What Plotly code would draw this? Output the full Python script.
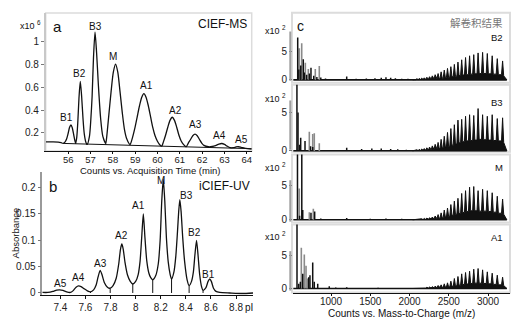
import plotly.graph_objects as go

W, H = 520, 330
FONT = "Liberation Sans, Arial, sans-serif"
CJK = "Noto Sans CJK SC"

# ---------------- (a) CIEF-MS: counts (x10^6) vs acquisition time (min)
ms_time = [55.0, 55.3, 55.55, 55.68, 55.77, 55.85, 55.93, 56.0, 56.06, 56.12, 56.18, 56.24, 56.29, 56.33,
           56.38, 56.43, 56.48, 56.54, 56.60, 56.66, 56.72, 56.79, 56.85,
           56.95, 57.0, 57.07, 57.13, 57.20, 57.27, 57.35, 57.45, 57.55, 57.68,
           57.72, 57.82, 57.92, 58.02, 58.12, 58.22, 58.32, 58.42, 58.52, 58.62, 58.77,
           58.85, 58.99, 59.09, 59.19, 59.29, 59.39, 59.49, 59.59, 59.69, 59.79, 59.89, 59.99, 60.09, 60.19,
           60.26, 60.36, 60.46, 60.56, 60.66, 60.76, 60.86, 60.96, 61.06, 61.16, 61.28,
           61.38, 61.48, 61.58, 61.68, 61.78, 61.88, 61.98, 62.08, 62.28,
           62.45, 62.6, 62.75, 62.88, 63.0, 63.12, 63.25,
           63.4, 63.52, 63.62, 63.75, 63.95, 64.22]
ms_counts = [0.123, 0.123, 0.121, 0.115, 0.109, 0.12, 0.15, 0.20, 0.25, 0.27, 0.245, 0.19, 0.14, 0.11,
             0.16, 0.30, 0.50, 0.65, 0.52, 0.33, 0.19, 0.12, 0.10,
             0.17, 0.28, 0.52, 0.85, 1.08, 0.90, 0.62, 0.33, 0.17, 0.11,
             0.16, 0.36, 0.56, 0.73, 0.80, 0.73, 0.56, 0.38, 0.23, 0.15, 0.10,
             0.14, 0.246, 0.34, 0.435, 0.51, 0.543, 0.51, 0.435, 0.34, 0.246, 0.175, 0.13, 0.10, 0.085,
             0.12, 0.18, 0.25, 0.31, 0.337, 0.31, 0.25, 0.18, 0.13, 0.10, 0.08,
             0.112, 0.143, 0.176, 0.19, 0.176, 0.143, 0.112, 0.092, 0.08,
             0.082, 0.09, 0.103, 0.108, 0.10, 0.085, 0.072,
             0.072, 0.078, 0.08, 0.075, 0.066, 0.06]
ms_base_time = [55.77, 64.22]
ms_base_counts = [0.109, 0.063]
ms_valley_time = [56.33, 56.85, 57.68, 58.77, 60.19, 61.28, 62.28, 63.25]
ms_valley_counts = [0.11, 0.10, 0.11, 0.10, 0.085, 0.08, 0.08, 0.072]
ms_names = ["B1", "B2", "B3", "M", "A1", "A2", "A3", "A4", "A5"]
ms_label_time = [55.93, 56.52, 57.23, 58.02, 59.5, 60.8, 61.72, 62.77, 63.78]
ms_label_counts = [0.337, 0.72, 1.13, 0.87, 0.61, 0.40, 0.27, 0.18, 0.14]

# ---------------- (b) iCIEF-UV: absorbance vs pI
uv_pi = [7.256, 7.30, 7.34, 7.37, 7.394, 7.42, 7.45, 7.48,
         7.50, 7.525, 7.545, 7.565, 7.59, 7.615, 7.64,
         7.665, 7.685, 7.70, 7.717, 7.73, 7.75, 7.775, 7.797,
         7.82, 7.845, 7.865, 7.879, 7.89, 7.901, 7.915, 7.935, 7.957, 7.977,
         8.00, 8.02, 8.035, 8.048, 8.061, 8.074, 8.088, 8.105, 8.12, 8.136,
         8.16, 8.18, 8.195, 8.208, 8.22, 8.232, 8.245, 8.26, 8.275, 8.286,
         8.305, 8.32, 8.333, 8.343, 8.352, 8.362, 8.375, 8.39, 8.41, 8.426,
         8.445, 8.46, 8.472, 8.485, 8.497, 8.51, 8.525, 8.537,
         8.56, 8.577, 8.59, 8.603, 8.62, 8.64, 8.67, 8.75, 8.85, 8.935]
uv_abs = [0.001, 0.001, 0.003, 0.0055, 0.006, 0.005, 0.002, 0.001,
          0.004, 0.011, 0.0134, 0.012, 0.008, 0.004, 0.002,
          0.006, 0.015, 0.030, 0.043, 0.036, 0.020, 0.011, 0.009,
          0.014, 0.028, 0.055, 0.083, 0.093, 0.083, 0.058, 0.034, 0.022, 0.017,
          0.022, 0.035, 0.060, 0.105, 0.150, 0.105, 0.062, 0.038, 0.029, 0.025,
          0.033, 0.055, 0.100, 0.175, 0.216, 0.175, 0.105, 0.058, 0.035, 0.0265,
          0.040, 0.070, 0.115, 0.155, 0.177, 0.155, 0.105, 0.060, 0.025, 0.014,
          0.022, 0.040, 0.072, 0.100, 0.072, 0.035, 0.012, 0.005,
          0.010, 0.022, 0.0265, 0.022, 0.009, 0.003, 0.001, 0.0, -0.001, 0.0]
uv_valley_pi = [7.64, 7.797, 7.977, 8.136, 8.286, 8.426, 8.537]
uv_valley_abs = [0.002, 0.009, 0.017, 0.025, 0.0265, 0.014, 0.005]
uv_names = ["A5", "A4", "A3", "A2", "A1", "M", "B3", "B2", "B1"]
uv_label_pi = [7.40, 7.545, 7.72, 7.89, 8.02, 8.20, 8.405, 8.47, 8.577]
uv_label_abs = [0.018, 0.030, 0.055, 0.109, 0.167, 0.213, 0.185, 0.115, 0.036]

# ---------------- (c) deconvolution spectra: counts (x10^2) vs m/z
env_mz = [2093.9, 2124.2, 2155.4, 2187.6, 2220.7, 2254.9, 2290.1, 2326.4, 2363.9, 2402.6,
          2442.7, 2484.1, 2526.9, 2571.2, 2617.1, 2664.6, 2714.0, 2765.2, 2818.3, 2873.6,
          2931.0, 2990.8, 3053.1, 3118.0, 3185.8]
spec_names = ["B2", "B3", "M", "A1"]
env_peak = {
    "B2": [0.2, 0.25, 0.3, 0.35, 0.45, 0.55, 0.7, 0.9, 1.1, 1.4, 1.7, 2.0, 2.3, 2.7, 3.1,
           3.5, 3.9, 4.2, 4.4, 4.7, 4.8, 4.6, 4.2, 3.7, 3.3],
    "B3": [0.15, 0.2, 0.25, 0.3, 0.4, 0.5, 0.65, 0.85, 1.1, 1.5, 1.9, 2.4, 2.9, 3.4, 4.0,
           4.1, 4.5, 4.7, 4.6, 5.5, 4.7, 4.5, 4.7, 4.2, 4.3],
    "M": [0.1, 0.12, 0.15, 0.2, 0.25, 0.3, 0.4, 0.55, 0.75, 1.0, 1.4, 1.7, 2.2, 2.7, 3.1,
          3.8, 4.2, 4.7, 4.8, 4.2, 4.4, 4.2, 3.9, 3.4, 3.0],
    "A1": [0.08, 0.1, 0.12, 0.15, 0.18, 0.22, 0.28, 0.35, 0.45, 0.55, 0.7, 0.85, 1.1, 1.5, 1.8,
           2.2, 2.4, 2.6, 2.9, 3.0, 2.8, 2.5, 2.3, 2.0, 1.7],
}
env_valley = {
    "B2": [0.04, 0.05, 0.06, 0.07, 0.08, 0.1, 0.12, 0.15, 0.2, 0.25, 0.3, 0.4, 0.45, 0.55, 0.65,
           0.75, 0.85, 0.9, 1.0, 1.05, 1.1, 1.1, 1.05, 1.0, 0.9, 0.7],
    "B3": [0.04, 0.05, 0.05, 0.07, 0.08, 0.1, 0.13, 0.17, 0.22, 0.3, 0.4, 0.5, 0.6, 0.75, 0.9,
           1.05, 1.2, 1.3, 1.35, 1.4, 1.5, 1.45, 1.4, 1.35, 1.3, 1.1],
    "M": [0.03, 0.03, 0.04, 0.05, 0.06, 0.08, 0.1, 0.12, 0.16, 0.22, 0.3, 0.4, 0.5, 0.65, 0.8,
          0.9, 1.05, 1.2, 1.3, 1.3, 1.25, 1.25, 1.2, 1.1, 0.95, 0.8],
    "A1": [0.02, 0.03, 0.03, 0.04, 0.05, 0.06, 0.07, 0.09, 0.11, 0.14, 0.17, 0.21, 0.26, 0.33, 0.42,
           0.5, 0.6, 0.68, 0.75, 0.8, 0.8, 0.75, 0.7, 0.62, 0.55, 0.45],
}
# low-mass fragments (black and grey traces)
low_black_mz = {
    "B2": [576, 590, 615, 647, 660, 690, 725, 745, 780, 820, 870],
    "B3": [566, 580, 600, 614, 669, 740, 767],
    "M": [573, 600, 628, 640, 745, 792],
    "A1": [567, 589, 610, 640, 716, 732, 767, 787, 831],
}
low_black_h = {
    "B2": [7.4, 1.8, 2.5, 3.6, 1.3, 0.9, 1.1, 2.1, 0.7, 0.5, 0.4],
    "B3": [15.0, 5.0, 0.8, 1.7, 1.3, 0.6, 0.5],
    "M": [15.0, 0.6, 15.0, 1.4, 1.0, 1.2],
    "A1": [15.0, 0.7, 1.0, 2.2, 1.7, 2.0, 3.9, 1.0, 0.7],
}
low_grey_mz = {
    "B2": [596, 627, 673, 711, 800, 851],
    "B3": [724, 767, 787, 851],
    "M": [596, 724, 775],
    "A1": [622, 660, 682, 700],
}
low_grey_h = {
    "B2": [5.5, 6.4, 3.0, 1.9, 1.9, 2.4],
    "B3": [2.5, 2.2, 2.3, 1.0],
    "M": [4.5, 1.1, 1.6],
    "A1": [6.1, 5.1, 3.4, 1.5],
}
noise_mz = {
    "B2": [930, 1200, 1320, 1450, 1560, 1640, 1700, 1760, 1820, 1900, 1980],
    "B3": [1200, 1390, 1520, 1640, 1760, 1850, 1960],
    "M": [870, 1200, 1500, 1700, 1900],
    "A1": [978, 1060, 1200, 1600],
}
noise_h = {
    "B2": [0.25, 0.6, 0.2, 0.25, 0.3, 0.35, 0.45, 0.35, 0.3, 0.2, 0.2],
    "B3": [0.4, 0.25, 0.3, 0.3, 0.25, 0.2, 0.15],
    "M": [0.2, 0.25, 0.15, 0.2, 0.15],
    "A1": [0.35, 0.15, 0.2, 0.12],
}
spec_yrange = {"B2": [-0.5, 11.7], "B3": [-0.1, 8.6], "M": [-0.4, 9.4], "A1": [-0.6, 9.6]}
mz_range = [516, 3280]
SPIKE_HALF = 14  # half base width of one charge-state spike, in m/z


def px(x):
    return x / W


def py(y):
    return 1 - y / H


def stems(xs, hs):
    sx, sy = [], []
    for x, h in zip(xs, hs):
        sx += [x, x, None]
        sy += [0, h, None]
    return sx, sy


fig = go.Figure()
INK = "#111111"

# ---- panel a traces
fig.add_trace(go.Scatter(x=ms_time, y=ms_counts, mode="lines", xaxis="x", yaxis="y",
                         line=dict(color=INK, width=1.3, shape="spline", smoothing=0.7)))
fig.add_trace(go.Scatter(x=ms_base_time, y=ms_base_counts, mode="lines", xaxis="x", yaxis="y",
                         line=dict(color=INK, width=1)))
slope = (ms_base_counts[1] - ms_base_counts[0]) / (ms_base_time[1] - ms_base_time[0])
dx, dy = [], []
for t, v in zip(ms_valley_time, ms_valley_counts):
    dx += [t, t, None]
    dy += [v, ms_base_counts[0] + slope * (t - ms_base_time[0]), None]
fig.add_trace(go.Scatter(x=dx, y=dy, mode="lines", xaxis="x", yaxis="y",
                         line=dict(color=INK, width=1)))

# ---- panel b traces
fig.add_trace(go.Scatter(x=uv_pi, y=uv_abs, mode="lines", xaxis="x2", yaxis="y2",
                         line=dict(color=INK, width=1.3, shape="spline", smoothing=0.6)))
vx, vy = [], []
for p, v in zip(uv_valley_pi, uv_valley_abs):
    vx += [p, p, None]
    vy += [v, 0, None]
fig.add_trace(go.Scatter(x=vx, y=vy, mode="lines", xaxis="x2", yaxis="y2",
                         line=dict(color=INK, width=1)))

# ---- panel c traces
for i, name in enumerate(spec_names):
    xa, ya = "x%d" % (i + 3), "y%d" % (i + 3)
    fig.add_trace(go.Scatter(x=[520, 3240], y=[0, 0], mode="lines", xaxis=xa, yaxis=ya,
                             line=dict(color=INK, width=1.6)))
    # charge-state envelope: narrow spikes standing on a filled valley floor
    vals = env_valley[name]
    zx, zy = [2040], [0]
    for k, m in enumerate(env_mz):
        zx += [m - SPIKE_HALF, m, m + SPIKE_HALF]
        zy += [vals[k], env_peak[name][k], vals[k + 1]]
    zx += [3240]
    zy += [0]
    fig.add_trace(go.Scatter(x=zx, y=zy, mode="lines", xaxis=xa, yaxis=ya, fill="tozeroy",
                             fillcolor=INK, line=dict(color=INK, width=1)))
    gx, gy = stems(low_grey_mz[name], low_grey_h[name])
    fig.add_trace(go.Scatter(x=gx, y=gy, mode="lines", xaxis=xa, yaxis=ya,
                             line=dict(color="#8a8a8a", width=1.6)))
    bx, by = stems(low_black_mz[name] + noise_mz[name], low_black_h[name] + noise_h[name])
    fig.add_trace(go.Scatter(x=bx, y=by, mode="lines", xaxis=xa, yaxis=ya,
                             line=dict(color=INK, width=1.5)))

tickfont = dict(family=FONT, size=10, color="#222")
layout = dict(
    width=W, height=H, margin=dict(l=0, r=0, t=0, b=0), showlegend=False,
    paper_bgcolor="white", plot_bgcolor="white", font=dict(family=FONT, color="#222"),
    xaxis=dict(domain=[px(45.7), px(251.7)], anchor="y", range=[54.99, 64.22],
               tickvals=list(range(56, 65)), ticks="outside", ticklen=2, tickcolor=INK,
               ticklabelstandoff=-3,
               showline=True, linecolor=INK, linewidth=1.3, showgrid=False, zeroline=False,
               tickfont=dict(family=FONT, size=9.5, color="#222")),
    yaxis=dict(domain=[py(153.3), py(13.3)], anchor="x", range=[0.043, 1.245],
               tickvals=[0.2, 0.4, 0.6, 0.8, 1], ticks="outside", ticklen=3, tickcolor="#777",
               showline=True, linecolor="#c8c8c8", linewidth=1.5, showgrid=False, zeroline=False,
               tickfont=tickfont),
    xaxis2=dict(domain=[px(42.3), px(253)], anchor="y2", range=[7.256, 8.935],
                tickvals=[7.4, 7.6, 7.8, 8, 8.2, 8.4, 8.6, 8.8], ticks="outside", ticklen=3,
                tickcolor=INK, showline=True, linecolor=INK, linewidth=1.3, showgrid=False,
                zeroline=False, tickfont=tickfont),
    yaxis2=dict(domain=[py(299.3), py(175)], anchor="x2", range=[-0.0034, 0.229],
                tickvals=[0, 0.05, 0.1, 0.15, 0.2], ticks="outside", ticklen=3, tickcolor="#777",
                showline=True, linecolor="#9a9a9a", linewidth=1.5, showgrid=False, zeroline=False,
                tickfont=tickfont),
)
sub_px = [(13, 84), (86, 154), (157, 226), (228, 297)]
for i, name in enumerate(spec_names):
    top, bot = sub_px[i]
    last = i == len(spec_names) - 1
    layout["xaxis%d" % (i + 3)] = dict(
        domain=[px(293), px(510)], anchor="y%d" % (i + 3), range=mz_range,
        tickvals=[1000, 1500, 2000, 2500, 3000], showticklabels=last,
        ticks="outside" if last else "", ticklen=2, tickcolor=INK, ticklabelstandoff=-3,
        showline=last, linecolor=INK, linewidth=1.3, showgrid=False, zeroline=False,
        tickfont=tickfont)
    layout["yaxis%d" % (i + 3)] = dict(
        domain=[py(bot), py(top)], anchor="x%d" % (i + 3), range=spec_yrange[name],
        tickvals=[0, 5], ticks="outside", ticklen=3, tickcolor="#777", showline=False,
        showgrid=False, zeroline=False, tickfont=tickfont)
fig.update_layout(**layout)

shapes = []
# light frame around panel a
shapes.append(dict(type="rect", xref="paper", yref="paper", x0=px(45.7), x1=px(251.7),
                   y0=py(153.3), y1=py(13.3), line=dict(color="#dcdcdc", width=1.5), layer="below"))
# frames and grey scale bars of the stacked spectra
bars = [(32, 82), (102, 152), (183, 225), (255, 295)]
for i in range(4):
    top, bot = sub_px[i]
    shapes.append(dict(type="rect", xref="paper", yref="paper", x0=px(292), x1=px(510),
                       y0=py(bot), y1=py(top), line=dict(color="#dcdcdc", width=2), layer="below"))
    shapes.append(dict(type="line", xref="paper", yref="paper", x0=px(290.3), x1=px(290.3),
                       y0=py(bars[i][1]), y1=py(bars[i][0]), line=dict(color="#a0a0a0", width=2)))
fig.update_layout(shapes=shapes)

ann = []
for n, t, v in zip(ms_names, ms_label_time, ms_label_counts):
    ann.append(dict(x=t, y=v, xref="x", yref="y", text=n, showarrow=False,
                    font=dict(size=10, color="#111"), xanchor="center", yanchor="middle"))
for n, p, v in zip(uv_names, uv_label_pi, uv_label_abs):
    ann.append(dict(x=p, y=v, xref="x2", yref="y2", text=n, showarrow=False,
                    font=dict(size=10, color="#111"), xanchor="center", yanchor="middle"))


def txt(x, y, s, size=10, anchor="center", color="#111", family=FONT, angle=0):
    ann.append(dict(x=px(x), y=py(y), xref="paper", yref="paper", text=s, showarrow=False,
                    xanchor=anchor, yanchor="middle", textangle=angle,
                    font=dict(size=size, color=color, family=family)))


txt(18, 25, "x10 <sup>6</sup>", size=9, anchor="left")
txt(57, 27, "a", size=15)
txt(249, 24, "CIEF-MS", size=12, anchor="right")
txt(150, 173, "Counts vs. Acquisition Time (min)", size=9.5)
txt(53, 189, "b", size=15)
txt(252, 189, "iCIEF-UV", size=12, anchor="right")
txt(249, 312, "pI", size=10)
txt(15, 237, "Absorbance", size=9.5, angle=-90)
txt(300, 26, "c", size=14)
txt(505, 23, "解卷积结果", size=10.5, anchor="right", color="#777", family=CJK)
label_y = [38, 104, 170, 241]
unit_y = [30, 99, 170, 240]
for i, name in enumerate(spec_names):
    txt(505, label_y[i], name, size=9.5, anchor="right")
    txt(263, unit_y[i], "x10 <sup>2</sup>", size=9, anchor="left")
txt(401, 318, "Counts vs. Mass-to-Charge (m/z)", size=10)
fig.update_layout(annotations=ann)

fig.write_html("out.html")
